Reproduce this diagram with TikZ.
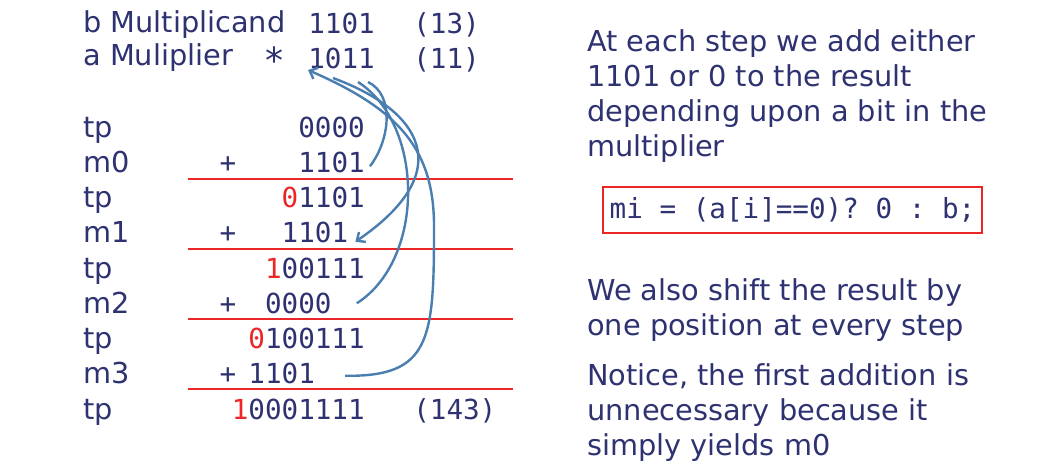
\documentclass[tikz,border=0pt]{standalone}
\usepackage{fontspec}
\setmainfont{DejaVu Sans}
\setmonofont{DejaVu Sans Mono}
\usetikzlibrary{calc, arrows.meta}
\definecolor{slideink}{RGB}{46,50,112}
\definecolor{slidewire}{RGB}{74,126,176}
\definecolor{slidered}{RGB}{234,38,38}

\begin{document}
\begin{tikzpicture}[x=0.75pt, y=-0.75pt, >={Straight Barb[length=5pt,width=9pt]},
    txt/.style={text=slideink, inner sep=0pt, font=\fontsize{21.6}{26.3}\selectfont},
    num/.style={text=slideink, inner sep=0pt, font=\fontsize{20.7}{25}\selectfont\ttfamily},
    sumline/.style={slidered, line width=1.2pt},
    link/.style={slidewire, line width=1.8pt}]
  \useasboundingbox (0,0) rectangle (1044,469);

  % --- Operands ---
  \node[txt, anchor=base west] (bname) at (83,32) {b Multiplicand};
  \node[txt, anchor=base west] (aname) at (83,65) {a Muliplier};
  \node[txt, anchor=base, font=\fontsize{27}{30}\selectfont] (star) at (274,73) {*};
  \node[num, anchor=base west] (bval) at (308,33) {1101};
  \node[num, anchor=base west] (aval) at (308,68) {1011};
  \node[num, anchor=base west] (bdec) at (413,33) {(13)};
  \node[num, anchor=base west] (adec) at (413,68) {(11)};

  % --- Row labels ---
  \foreach \lab [count=\k from 0] in {tp,m0,tp,m1,tp,m2,tp,m3,tp}
    \node[txt, anchor=base west] (lab\k) at (83,137+35.25*\k) {\lab};

  % --- Partial sums and shifted multiplicands ---
  \node[num, anchor=base east] (tp0) at (365,137) {0000};
  \node[num, anchor=base east] (m0num) at (365,172.25) {1101};
  \node[num, anchor=base east] (tp1) at (365,207.5) {\textcolor{slidered}{0}1101};
  \node[num, anchor=base east] (m1num) at (348.4,242.75) {1101};
  \node[num, anchor=base east] (tp2) at (365,278) {\textcolor{slidered}{1}00111};
  \node[num, anchor=base east] (m2num) at (331.8,313.25) {0000};
  \node[num, anchor=base east] (tp3) at (365,348.5) {\textcolor{slidered}{0}100111};
  \node[num, anchor=base east] (m3num) at (315.2,383.75) {1101};
  \node[num, anchor=base east] (tp4) at (365,419) {\textcolor{slidered}{1}0001111};
  \node[num, anchor=base west] (pdec) at (413,419) {(143)};

  \foreach \k/\y in {0/172.25,1/242.75,2/313.25,3/383.75}
    \node[num, anchor=base] (plus\k) at (228,\y) {+};

  % --- Sum lines ---
  \foreach \y in {179,249,319,389}
    \draw[sumline] (188,\y) -- (513,\y);

  % --- Bits of a picking each row ---
  \coordinate (a0) at (368,82);
  \coordinate (a1) at (333,78);
  \coordinate (a2) at (358,82);
  \coordinate (a3) at (308,70);

  \draw[link] (a0) .. controls (395,95) and (390,140) .. ($(m0num.base east)+(5,-6)$);
  \draw[link, ->] (a1) .. controls (420,110) and (460,170) .. ($(m1num.base east)+(7,-1)$);
  \draw[link] (a2) .. controls (425,125) and (425,260) .. ($(m2num.base east)+(25,-10)$);
  \draw[link, <-] (a3) .. controls (400,110) and (435,150) .. (434,230)
    .. controls (434,340) and (430,377) .. ($(m3num.base east)+(30,-8)$);

  % --- Notes ---
  \node[txt, anchor=north west, align=left] (note1) at (587,29)
    {At each step we add either\\1101 or 0 to the result\\depending upon a bit in the\\multiplier};
  \node[num, draw=slidered, line width=1.1pt, minimum width=284pt, minimum height=34.5pt]
    (rule) at (792.5,210) {mi = (a[i]==0)? 0 : b;};
  \node[txt, anchor=north west, align=left] (note2) at (587,278)
    {We also shift the result by\\one position at every step};
  \node[txt, anchor=north west, align=left] (note3) at (587,363)
    {Notice, the first addition is\\unnecessary because it\\simply yields m0};
\end{tikzpicture}
\end{document}
